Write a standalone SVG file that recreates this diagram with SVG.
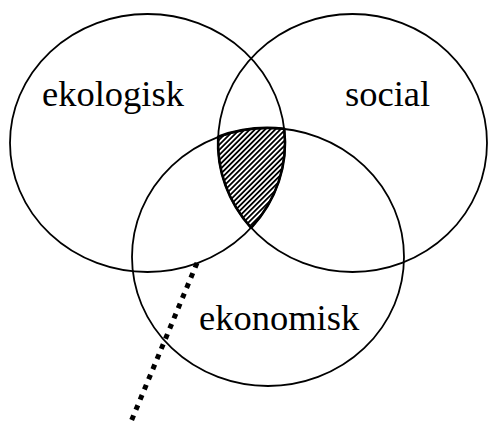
<svg xmlns="http://www.w3.org/2000/svg" width="489" height="421" viewBox="0 0 489 421">
  <style>
    .ring { fill: none; stroke: #000; stroke-width: 1.8; }
    .lbl { font-family: "Liberation Serif", "Times New Roman", serif; font-size: 36.5px; fill: #000; }
    .hatch { fill: url(#hatch); stroke: #000; stroke-width: 2.6; stroke-linejoin: round; }
    .dots { fill: none; stroke: #000; stroke-width: 5; stroke-dasharray: 5 6; }
  </style>
  <defs>
    <pattern id="hatch" patternUnits="userSpaceOnUse" width="3.6" height="3.6" patternTransform="rotate(-45)">
      <rect width="3.6" height="3.6" fill="#fff"/>
      <line x1="0" y1="1.8" x2="3.6" y2="1.8" stroke="#000" stroke-width="1.8"/>
    </pattern>
  </defs>
  <rect width="489" height="421" fill="#fff"/>
  <g id="intersection">
    <path class="hatch" d="M 218.2,136.7 A 136 129 0 0 1 284.2,128.9 A 137.5 129 0 0 1 251.13,227.8 A 134.5 129 0 0 1 218.2,136.7 Z"/>
  </g>
  <g id="ekologisk">
    <ellipse class="ring" cx="147.5" cy="143" rx="137.5" ry="129"/>
    <text class="lbl" x="42" y="106">ekologisk</text>
  </g>
  <g id="social">
    <ellipse class="ring" cx="352.5" cy="143" rx="134.5" ry="129"/>
    <text class="lbl" x="345" y="106">social</text>
  </g>
  <g id="ekonomisk">
    <ellipse class="ring" cx="268" cy="257" rx="136" ry="129"/>
    <text class="lbl" x="199" y="330">ekonomisk</text>
  </g>
  <g id="connectors">
    <line class="dots" x1="197" y1="263" x2="130" y2="424"/>
  </g>
</svg>
